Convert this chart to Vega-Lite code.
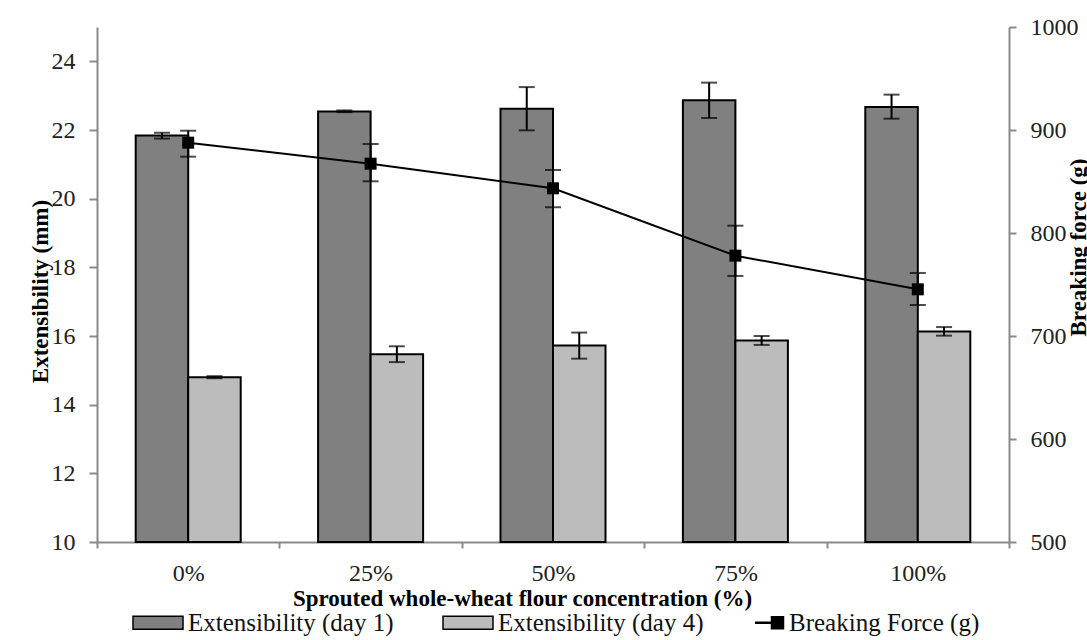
{
  "$schema": "https://vega.github.io/schema/vega-lite/v6.json",
  "width": 912,
  "height": 515,
  "autosize": {"type": "none"},
  "padding": {"left": 97, "top": 27, "right": 78, "bottom": 98},
  "background": "white",
  "config": {
    "font": "Liberation Serif",
    "view": {"stroke": null},
    "axis": {
      "grid": false,
      "domainColor": "#8a8a8a",
      "tickColor": "#8a8a8a",
      "domainWidth": 2,
      "tickWidth": 2,
      "labelFont": "Liberation Serif",
      "labelFontSize": 24,
      "labelColor": "#222222",
      "titleFont": "Liberation Serif",
      "titleFontSize": 23,
      "titleFontWeight": "bold",
      "titleColor": "#000000"
    }
  },
  "datasets": {
    "bars": [
      {"conc": "0%", "series": "Extensibility (day 1)", "value": 21.84, "lo": 21.75, "hi": 21.92},
      {"conc": "0%", "series": "Extensibility (day 4)", "value": 14.8, "lo": 14.77, "hi": 14.83},
      {"conc": "25%", "series": "Extensibility (day 1)", "value": 22.54, "lo": 22.52, "hi": 22.57},
      {"conc": "25%", "series": "Extensibility (day 4)", "value": 15.47, "lo": 15.24, "hi": 15.7},
      {"conc": "50%", "series": "Extensibility (day 1)", "value": 22.62, "lo": 21.99, "hi": 23.25},
      {"conc": "50%", "series": "Extensibility (day 4)", "value": 15.72, "lo": 15.34, "hi": 16.1},
      {"conc": "75%", "series": "Extensibility (day 1)", "value": 22.87, "lo": 22.35, "hi": 23.38},
      {"conc": "75%", "series": "Extensibility (day 4)", "value": 15.87, "lo": 15.74, "hi": 16.0},
      {"conc": "100%", "series": "Extensibility (day 1)", "value": 22.67, "lo": 22.33, "hi": 23.03},
      {"conc": "100%", "series": "Extensibility (day 4)", "value": 16.13, "lo": 16.01, "hi": 16.26}
    ],
    "force": [
      {"conc": "0%", "force": 887.7, "lo": 874.1, "hi": 899.3},
      {"conc": "25%", "force": 867.3, "lo": 850.2, "hi": 886.4},
      {"conc": "50%", "force": 843.4, "lo": 825.0, "hi": 861.2},
      {"conc": "75%", "force": 778.0, "lo": 758.3, "hi": 807.1},
      {"conc": "100%", "force": 745.3, "lo": 730.1, "hi": 761.2}
    ]
  },
  "layer": [
    {
      "data": {"name": "bars"},
      "encoding": {
        "x": {
          "field": "conc",
          "type": "nominal",
          "sort": ["0%", "25%", "50%", "75%", "100%"],
          "scale": {"paddingInner": 0, "paddingOuter": 0},
          "axis": {
            "labelAngle": 0,
            "tickBand": "extent",
            "tickSize": 6,
            "labelPadding": 13,
            "title": "Sprouted whole-wheat flour concentration (%)",
            "titleX": 425,
            "titleY": 63,
            "titleBaseline": "alphabetic"
          }
        },
        "xOffset": {
          "field": "series",
          "type": "nominal",
          "sort": ["Extensibility (day 1)", "Extensibility (day 4)"],
          "scale": {"paddingInner": 0, "paddingOuter": 0.737}
        }
      },
      "layer": [
        {
          "mark": {"type": "bar", "stroke": "#000000", "strokeWidth": 2},
          "encoding": {
            "y": {
              "field": "value",
              "type": "quantitative",
              "scale": {"domain": [10, 25], "nice": false, "zero": false},
              "axis": {
                "values": [10, 12, 14, 16, 18, 20, 22, 24],
                "tickSize": 8,
                "labelPadding": 14,
                "title": "Extensibility (mm)",
                "titleAngle": 270,
                "titleBaseline": "alphabetic",
                "titleX": -50,
                "titleY": 264
              }
            },
            "y2": {"datum": 10},
            "color": {
              "field": "series",
              "type": "nominal",
              "scale": {
                "domain": ["Extensibility (day 1)", "Extensibility (day 4)", "Breaking Force (g)"],
                "range": ["#808080", "#bcbcbc", "#000000"]
              },
              "legend": {
                "title": null,
                "orient": "none",
                "legendX": 61,
                "legendY": 583,
                "direction": "horizontal",
                "columns": 3,
                "columnPadding": 46,
                "padding": 0,
                "labelOffset": 5,
                "labelFont": "Liberation Serif",
                "labelFontSize": 25,
                "labelColor": "#111111",
                "labelLimit": 400,
                "symbolSize": 2500,
                "symbolStrokeColor": "#000000",
                "symbolStrokeWidth": 1.5,
                "symbolOpacity": 1,
                "encode": {
                  "symbols": {
                    "update": {
                      "shape": {"signal": "datum.value === 'Breaking Force (g)' ? 'M-0.66,0L0.46,0M0.02,-0.22L0.46,-0.22L0.46,0.22L0.02,0.22Z' : 'M-1.5,-0.26L0.5,-0.26L0.5,0.26L-1.5,0.26Z'"},
                      "strokeWidth": {"signal": "datum.value === 'Breaking Force (g)' ? 2.5 : 1.5"}
                    }
                  }
                }
              }
            }
          }
        },
        {
          "mark": {"type": "rule", "color": "#000000", "strokeWidth": 2},
          "encoding": {
            "y": {"field": "lo", "type": "quantitative"},
            "y2": {"field": "hi"}
          }
        },
        {
          "mark": {"type": "tick", "color": "#000000", "thickness": 2, "size": 16},
          "encoding": {"y": {"field": "hi", "type": "quantitative"}}
        },
        {
          "mark": {"type": "tick", "color": "#000000", "thickness": 2, "size": 16},
          "encoding": {"y": {"field": "lo", "type": "quantitative"}}
        }
      ]
    },
    {
      "data": {"name": "force"},
      "encoding": {
        "x": {"field": "conc", "type": "nominal", "sort": ["0%", "25%", "50%", "75%", "100%"]}
      },
      "layer": [
        {
          "mark": {"type": "line", "color": "#000000", "strokeWidth": 2},
          "encoding": {
            "y": {
              "field": "force",
              "type": "quantitative",
              "scale": {"domain": [500, 1000], "nice": false, "zero": false},
              "axis": {
                "orient": "right",
                "values": [500, 600, 700, 800, 900, 1000],
                "format": "d",
                "tickSize": 7,
                "labelPadding": 14,
                "title": "Breaking force (g)",
                "titleAngle": 270,
                "titleBaseline": "alphabetic",
                "titleX": 76,
                "titleY": 220
              }
            }
          }
        },
        {
          "mark": {"type": "rule", "color": "#000000", "strokeWidth": 2},
          "encoding": {
            "y": {"field": "lo", "type": "quantitative"},
            "y2": {"field": "hi"}
          }
        },
        {
          "mark": {"type": "tick", "color": "#000000", "thickness": 2, "size": 16},
          "encoding": {"y": {"field": "hi", "type": "quantitative"}}
        },
        {
          "mark": {"type": "tick", "color": "#000000", "thickness": 2, "size": 16},
          "encoding": {"y": {"field": "lo", "type": "quantitative"}}
        },
        {
          "mark": {"type": "point", "shape": "square", "size": 144, "filled": true, "color": "#000000", "opacity": 1},
          "encoding": {"y": {"field": "force", "type": "quantitative"}}
        }
      ]
    }
  ],
  "resolve": {"scale": {"y": "independent"}}
}
